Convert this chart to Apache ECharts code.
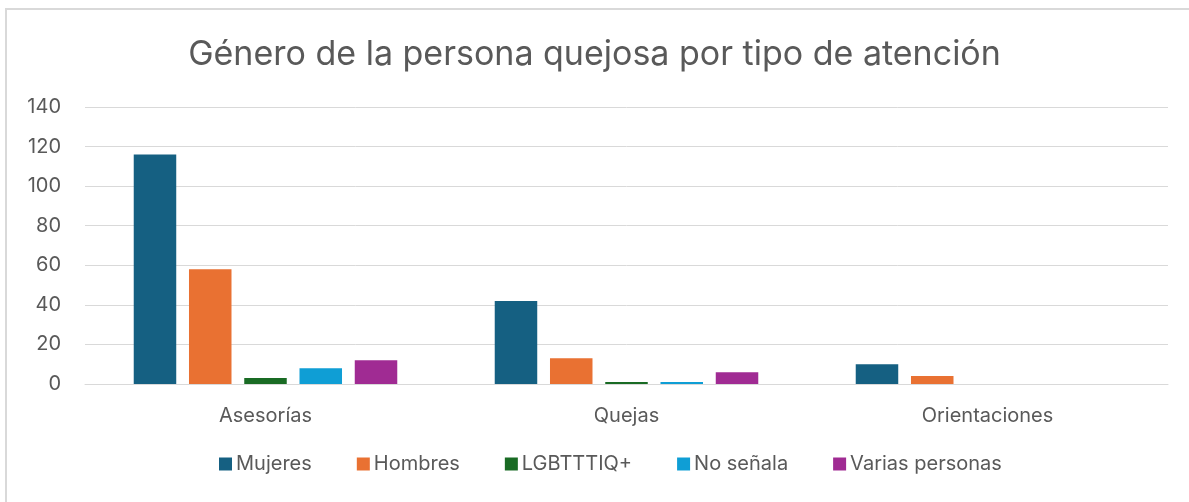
<!DOCTYPE html>
<html>
<head>
<meta charset="utf-8">
<script src="https://cdn.jsdelivr.net/npm/echarts@6/dist/echarts.min.js"></script>
<style>
  html, body { margin: 0; padding: 0; background: #fff; }
  #wrap { position: relative; width: 1189px; height: 502px; overflow: hidden; }
  #frame { position: absolute; left: 5px; top: 8px; width: 1200px; height: 520px;
           border: 2px solid #d9d9d9; box-sizing: border-box; }
  #chart { position: absolute; left: 0; top: 0; width: 1189px; height: 502px; }
</style>
</head>
<body>
<div id="wrap">
  <div id="frame"></div>
  <div id="chart"></div>
</div>
<script>
// datos
var categorias = ['Asesorías', 'Quejas', 'Orientaciones'];
var mujeres = [116, 42, 10];
var hombres = [58, 13, 4];
var lgbtttiq = [3, 1, 0];
var noSenala = [8, 1, 0];
var variasPersonas = [12, 6, 0];
var ticksY = [0, 20, 40, 60, 80, 100, 120, 140];

var fuente = 'Inter, "Open Sans", sans-serif';
var gris = '#595959';

var chart = echarts.init(document.getElementById('chart'));

function serie(nombre, datos, color) {
    return {
        name: nombre,
        type: 'bar',
        data: datos,
        barGap: '30%',
        barCategoryGap: '27%',
        itemStyle: { color: color },
        emphasis: { disabled: true }
    };
}

chart.setOption({
    animation: false,
    title: {
        text: 'Género de la persona quejosa por tipo de atención',
        left: 'center',
        top: 33,
        textStyle: { fontFamily: fuente, fontSize: 34, fontWeight: 'normal', color: gris }
    },
    legend: {
        bottom: 23,
        left: 214,
        itemWidth: 13,
        itemHeight: 13,
        itemGap: 45,
        icon: 'rect',
        textStyle: { fontFamily: fuente, fontSize: 20, color: gris, padding: [0, 0, 0, -1] },
        data: ['Mujeres', 'Hombres', 'LGBTTTIQ+', 'No señala', 'Varias personas']
    },
    grid: { left: 85, right: 21, top: 107, bottom: 118 },
    xAxis: {
        type: 'category',
        data: categorias,
        axisLine: { lineStyle: { color: '#d9d9d9', width: 1 } },
        axisTick: { show: false },
        axisLabel: { fontFamily: fuente, fontSize: 20, color: gris, margin: 22 }
    },
    yAxis: {
        type: 'value',
        min: ticksY[0],
        max: ticksY[ticksY.length - 1],
        interval: 20,
        axisLine: { show: false },
        axisTick: { show: false },
        axisLabel: { fontFamily: fuente, fontSize: 20, color: gris, margin: 24 },
        splitLine: { lineStyle: { color: '#d9d9d9', width: 1 } }
    },
    series: [
        serie('Mujeres', mujeres, '#156082'),
        serie('Hombres', hombres, '#E97132'),
        serie('LGBTTTIQ+', lgbtttiq, '#196B24'),
        serie('No señala', noSenala, '#0F9ED5'),
        serie('Varias personas', variasPersonas, '#A02B93')
    ]
});
</script>
</body>
</html>
